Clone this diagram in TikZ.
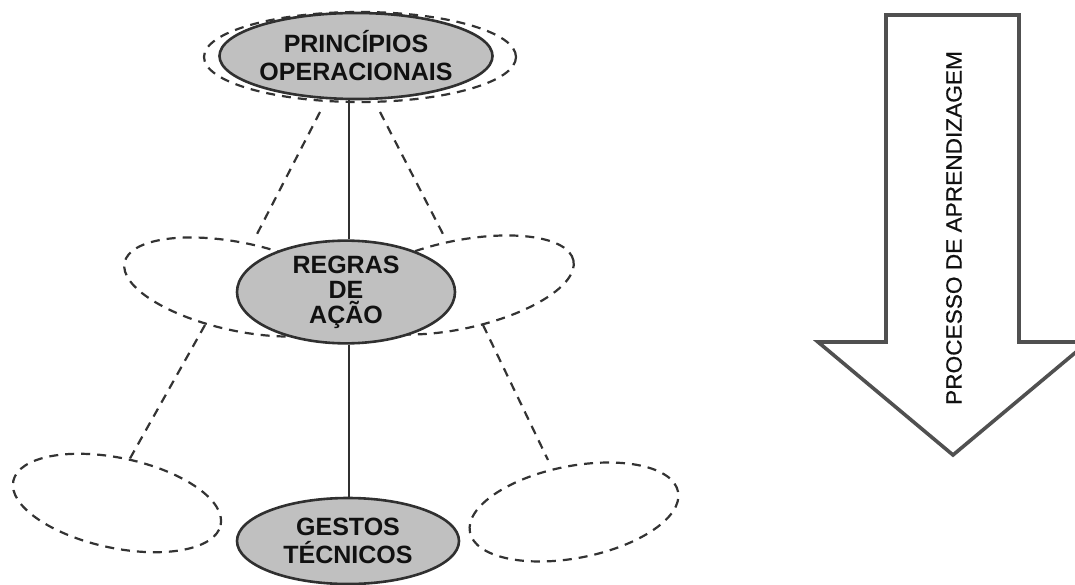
\documentclass[tikz,border=0pt]{standalone}
\usepackage{fontspec}
\usepackage{graphicx}
\setmainfont{Liberation Sans}
\newfontfamily\arrowfont[FakeBold=0.6]{Liberation Sans}
\usetikzlibrary{shapes.geometric}

\definecolor{stagefill}{HTML}{C0C0C0}
\definecolor{stageline}{HTML}{303030}
\definecolor{dashline}{HTML}{333333}
\definecolor{arrowline}{HTML}{505050}
\definecolor{inktext}{HTML}{111111}

\tikzset{
  stage/.style={ellipse, draw=stageline, line width=2.6pt, fill=stagefill,
    inner sep=0pt, align=center, text=inktext,
    font=\fontsize{25}{28}\selectfont\bfseries},
  lobe/.style={ellipse, draw=dashline, line width=2.2pt,
    dash pattern=on 9pt off 7pt, inner sep=0pt},
  halo/.style={draw=dashline, line width=2.2pt, dash pattern=on 9pt off 7pt},
  link/.style={draw=stageline, line width=2.4pt},
  bigarrow/.style={draw=arrowline, line width=3.6pt, line join=miter, fill=white},
}

\begin{document}
\begin{tikzpicture}[x=1pt, y=-1pt]
  \useasboundingbox (0,0) rectangle (1075,585);

  % dashed surroundings of each level
  \node[lobe, minimum width=312, minimum height=90] (topHalo) at (360,57) {};
  \node[lobe, minimum width=236, minimum height=88, rotate=-12] (midLeft) at (240,287) {};
  \node[lobe, minimum width=236, minimum height=88, rotate=12] (midRight) at (458,285) {};
  \node[lobe, minimum width=212, minimum height=90, rotate=-12] (lowLeft) at (117,503) {};
  \node[lobe, minimum width=212, minimum height=92, rotate=11] (lowRight) at (574,512) {};

  % ends of the dashed links between the surroundings
  \coordinate (tl1) at (320,112);
  \coordinate (tl2) at (256,236);
  \coordinate (tr1) at (380,112);
  \coordinate (tr2) at (444,236);
  \coordinate (ml1) at (205,325);
  \coordinate (ml2) at (128,462);
  \coordinate (mr1) at (483,325);
  \coordinate (mr2) at (548,460);
  \draw[halo] (tl1) -- (tl2);
  \draw[halo] (tr1) -- (tr2);
  \draw[halo] (ml1) -- (ml2);
  \draw[halo] (mr1) -- (mr2);

  % the three levels
  \node[stage, minimum width=222, minimum height=86] (principios) at (356,56)
    {PRINCÍPIOS\\OPERACIONAIS};
  \node[stage, minimum width=218, minimum height=87] (regras) at (346,292)
    {REGRAS\\[-3pt]DE\\[-3pt]AÇÃO};
  \node[stage, minimum width=222, minimum height=86] (gestos) at (348,541)
    {GESTOS\\TÉCNICOS};

  % vertical axis joining the levels
  \coordinate (axis) at (349,0);
  \draw[link] (principios.south -| axis) -- (regras.north -| axis);
  \draw[link] (regras.south -| axis) -- (gestos.north -| axis);

  % learning direction arrow
  \draw[bigarrow] (886,15) -- (1019,15) -- (1019,342) -- (1088,342)
    -- (953,455) -- (818,342) -- (886,342) -- cycle;
  \node[rotate=90, text=inktext, inner sep=0pt] (processo) at (954,228)
    {\scalebox{1.03}[1]{\arrowfont\fontsize{22}{24}\selectfont PROCESSO DE APRENDIZAGEM}};
\end{tikzpicture}
\end{document}
